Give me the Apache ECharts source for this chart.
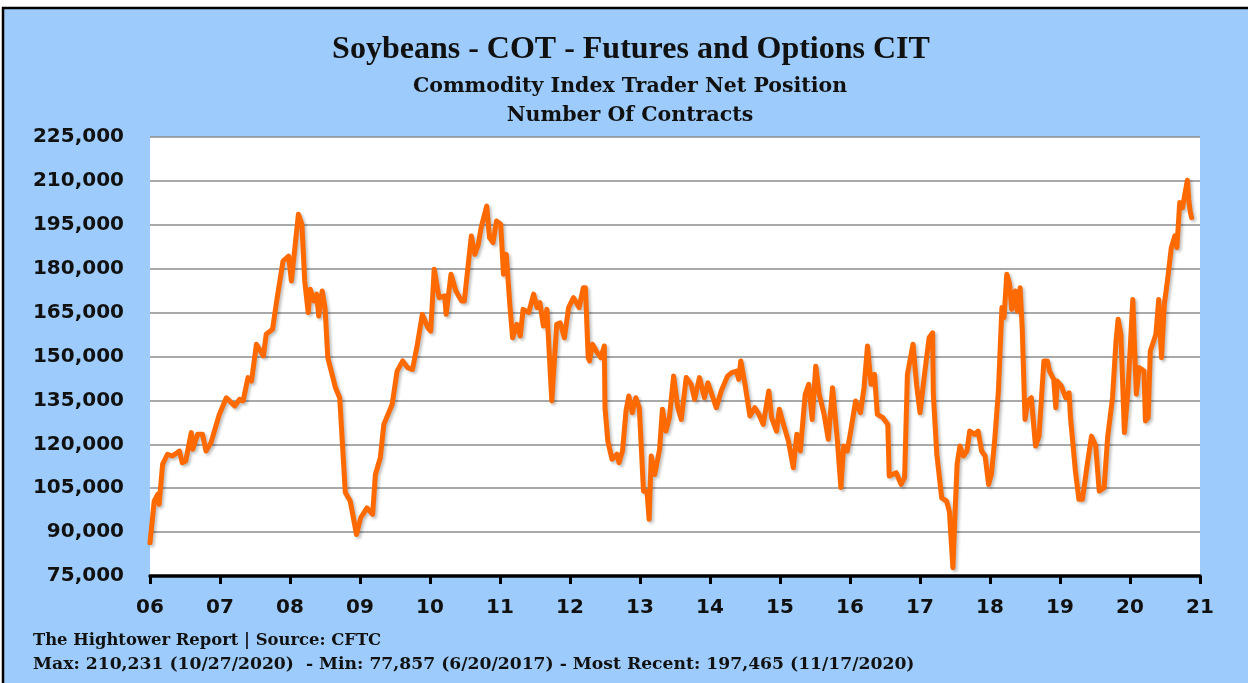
<!DOCTYPE html>
<html>
<head>
<meta charset="utf-8">
<script src="https://cdn.jsdelivr.net/npm/echarts@6/dist/echarts.min.js"></script>
<style>
html,body{margin:0;padding:0;background:#fff;}
#chart{width:1248px;height:683px;}
</style>
</head>
<body>
<div id="chart"></div>
<script>
// Decimal-year dates of the readings (weekly CFTC data)
const dates = [
2006.00,2006.06,2006.11,2006.13,2006.18,2006.25,2006.32,2006.42,2006.46,2006.51,
2006.59,2006.61,2006.68,2006.75,2006.80,2006.87,2006.99,2007.09,2007.21,2007.28,
2007.33,2007.40,2007.45,2007.52,2007.62,2007.66,2007.75,2007.81,2007.90,2007.98,
2008.02,2008.07,2008.12,2008.17,2008.21,2008.26,2008.29,2008.34,2008.38,2008.41,
2008.46,2008.50,2008.54,2008.65,2008.71,2008.79,2008.86,2008.95,2009.01,2009.10,
2009.18,2009.22,2009.29,2009.34,2009.46,2009.53,2009.61,2009.68,2009.75,2009.82,
2009.89,2009.97,2010.01,2010.06,2010.13,2010.21,2010.23,2010.30,2010.37,2010.45,
2010.49,2010.59,2010.64,2010.69,2010.73,2010.81,2010.85,2010.90,2010.95,2011.01,
2011.05,2011.09,2011.14,2011.18,2011.24,2011.29,2011.33,2011.41,2011.48,2011.53,
2011.57,2011.62,2011.67,2011.74,2011.81,2011.86,2011.92,2011.98,2012.05,2012.13,
2012.19,2012.22,2012.26,2012.28,2012.32,2012.39,2012.44,2012.49,2012.50,2012.54,
2012.60,2012.67,2012.70,2012.75,2012.80,2012.84,2012.89,2012.94,2012.99,2013.05,
2013.10,2013.13,2013.16,2013.21,2013.28,2013.32,2013.37,2013.42,2013.48,2013.54,
2013.59,2013.66,2013.73,2013.78,2013.85,2013.92,2013.97,2014.09,2014.16,2014.25,
2014.31,2014.38,2014.41,2014.44,2014.50,2014.57,2014.64,2014.70,2014.76,2014.84,
2014.88,2014.95,2014.99,2015.05,2015.12,2015.19,2015.24,2015.29,2015.36,2015.41,
2015.46,2015.51,2015.56,2015.63,2015.69,2015.75,2015.82,2015.87,2015.91,2015.96,
2016.01,2016.08,2016.15,2016.20,2016.25,2016.30,2016.35,2016.39,2016.47,2016.54,
2016.56,2016.66,2016.73,2016.78,2016.82,2016.90,2016.95,2017.00,2017.07,2017.13,
2017.18,2017.19,2017.24,2017.31,2017.38,2017.42,2017.47,2017.50,2017.53,2017.57,
2017.62,2017.67,2017.71,2017.78,2017.83,2017.88,2017.93,2017.98,2018.02,2018.07,
2018.12,2018.17,2018.20,2018.24,2018.28,2018.31,2018.36,2018.39,2018.43,2018.46,
2018.50,2018.54,2018.59,2018.65,2018.70,2018.77,2018.82,2018.85,2018.91,2018.94,
2018.96,2019.02,2019.08,2019.13,2019.15,2019.22,2019.27,2019.32,2019.39,2019.45,
2019.51,2019.56,2019.63,2019.68,2019.75,2019.80,2019.83,2019.87,2019.92,2019.97,
2020.04,2020.09,2020.13,2020.20,2020.22,2020.26,2020.29,2020.37,2020.41,2020.45,
2020.49,2020.54,2020.59,2020.64,2020.67,2020.71,2020.75,2020.78,2020.82,2020.84,
2020.86,2020.88
];
// Commodity Index Trader net position (contracts)
const netPosition = [
86400,100600,102900,99500,113200,116600,116000,117700,113700,114300,
124000,118300,123400,123400,117700,120500,130200,135900,133100,135400,
134800,142800,141600,154200,150200,157600,159300,169000,182600,184300,
175800,187200,198600,195200,175800,165000,173000,169000,171300,163800,
172400,166700,149600,139300,135900,103500,100600,89200,94900,98300,
96100,109700,115400,126800,133700,145000,148500,146200,145600,154200,
164400,159800,158700,179800,170100,170700,164400,178100,172400,169000,
169000,191200,184900,188300,194000,201400,190600,188900,196300,195200,
178100,184900,167800,156400,161000,157000,166100,165000,171300,166700,
168400,160400,166100,134800,161000,161500,156400,166700,170100,166700,
173500,173500,149600,148500,154200,151300,149600,153600,132500,121100,
114900,116600,113700,117700,131400,136500,130800,135900,132500,104000,
104000,94400,116000,109700,118300,132000,124500,129100,143300,132500,
128500,142800,140500,135400,142800,135900,141000,132500,138200,143300,
144500,145000,142200,148500,140500,129700,132500,130200,126800,138200,
129100,124500,132000,126800,121100,112000,123400,117700,137100,140500,
128500,146700,137100,130200,121700,139300,121100,105200,119400,117700,
124500,134800,130800,139300,153600,140500,143900,130200,129100,126800,
109200,110300,106300,108600,143900,154200,140500,130800,145000,156400,
158100,137100,116600,101700,100600,97000,77857,96100,113200,119400,
116000,117700,124500,123400,124500,117700,116000,106300,109700,122300,
138200,166700,163300,178100,174700,166100,172400,165500,173500,159800,
128500,134800,135900,119400,122800,148500,148500,145000,142200,132500,
141600,139900,135900,137600,129100,110900,101200,101200,113200,122800,
119400,104000,105200,122300,135900,155300,162700,157600,124000,138200,
169500,137100,146200,145000,128000,129100,151900,157600,169500,149600,
167800,176900,187200,191200,187200,202600,200800,205000,210231,203500,
199500,197465
];
const yTicks = {min: 75000, max: 225000, step: 15000};
const xYears = {min: 2006, max: 2021, step: 1};
const titleText = 'Soybeans - COT - Futures and Options CIT';
const subtitle1 = 'Commodity Index Trader Net Position';
const subtitle2 = 'Number Of Contracts';
const footer1 = 'The Hightower Report | Source: CFTC';
const footer2 = 'Max: 210,231 (10/27/2020)  - Min: 77,857 (6/20/2017) - Most Recent: 197,465 (11/17/2020)';

const chart = echarts.init(document.getElementById('chart'), null, {renderer: 'canvas'});
const seriesData = dates.map((d, i) => [d, netPosition[i]]);
const serif = '"Liberation Serif", "DejaVu Serif", serif';
const wideSerif = '"DejaVu Serif", "Liberation Serif", serif';
const sans = '"DejaVu Sans", "Liberation Sans", sans-serif';

chart.setOption({
  backgroundColor: '#ffffff',
  animation: false,
  graphic: [
    {type: 'rect', z: -10, silent: true, shape: {x: 3, y: 8, width: 1260, height: 690},
     style: {fill: '#9DCCFC', stroke: '#000', lineWidth: 2.5}},
    {type: 'text', z: 10, style: {text: titleText, x: 631, y: 50, textAlign: 'center', textVerticalAlign: 'middle', font: 'bold 32px ' + serif, fill: '#111'}},
    {type: 'text', z: 10, style: {text: subtitle1, x: 630, y: 87, textAlign: 'center', textVerticalAlign: 'middle', font: 'bold 20.5px ' + wideSerif, fill: '#111'}},
    {type: 'text', z: 10, style: {text: subtitle2, x: 630, y: 116, textAlign: 'center', textVerticalAlign: 'middle', font: 'bold 20.5px ' + wideSerif, fill: '#111'}},
    {type: 'text', z: 10, style: {text: footer1, x: 33, y: 641, textAlign: 'left', textVerticalAlign: 'middle', font: 'bold 16.4px ' + wideSerif, fill: '#111'}},
    {type: 'text', z: 10, style: {text: footer2, x: 33, y: 665, textAlign: 'left', textVerticalAlign: 'middle', font: 'bold 17.2px ' + wideSerif, fill: '#111'}}
  ],
  grid: {left: 150, right: 48, top: 137, bottom: 107, show: true, backgroundColor: '#ffffff', borderWidth: 0},
  xAxis: {
    type: 'value', min: xYears.min, max: xYears.max, interval: xYears.step,
    axisLine: {show: true, onZero: false, lineStyle: {color: '#000', width: 3.5}},
    axisTick: {show: true, length: 8, lineStyle: {color: '#000', width: 3}},
    axisLabel: {margin: 22, color: '#111', fontFamily: sans, fontWeight: 'bold', fontSize: 20,
      formatter: v => String(Math.round(v)).slice(2)},
    splitLine: {show: false}
  },
  yAxis: {
    type: 'value', min: yTicks.min, max: yTicks.max, interval: yTicks.step,
    axisLine: {show: false}, axisTick: {show: false},
    axisLabel: {margin: 26, color: '#111', fontFamily: sans, fontWeight: 'bold', fontSize: 20,
      formatter: v => v.toLocaleString('en-US')},
    splitLine: {show: true, lineStyle: {color: '#8c8c8c', width: 1.6}}
  },
  series: [{
    type: 'line', data: seriesData, showSymbol: false, smooth: false,
    lineStyle: {color: '#FF6A00', width: 5, join: 'round', cap: 'round',
      shadowColor: 'rgba(0,0,0,0.25)', shadowBlur: 3, shadowOffsetX: 2, shadowOffsetY: 2}
  }]
});
</script>
</body>
</html>
